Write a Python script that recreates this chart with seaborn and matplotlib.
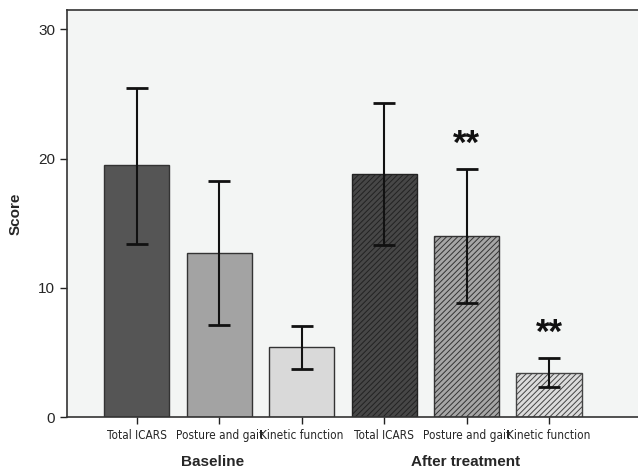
import numpy as np
import pandas as pd
import matplotlib
matplotlib.use('Agg')
import matplotlib.pyplot as plt
import seaborn as sns

# Данные
groups  = ['Baseline', 'Baseline', 'Baseline',
           'After treatment', 'After treatment', 'After treatment']
items   = ['Total ICARS', 'Posture and gait', 'Kinetic function',
           'Total ICARS', 'Posture and gait', 'Kinetic function']
means   = [19.5, 12.7, 5.4, 18.8, 14.05, 3.45]
err_lo  = [13.4, 7.1, 3.7, 13.3, 8.85, 2.3]
err_hi  = [25.5, 18.3, 7.05, 24.3, 19.2, 4.6]
signif  = ['', '', '', '', '**', '**']
colors  = ['#555555', '#a3a3a3', '#d9d9d9', '#474747', '#a6a6a6', '#dcdcdc']
hatch_c = [None, None, None, '#222222', '#333333', '#444444']

df = pd.DataFrame({'key': [f'{g}|{i}' for g, i in zip(groups, items)],
                   'item': items, 'group': groups, 'score': means})

sns.set_style('white')
plt.rcParams['hatch.linewidth'] = 0.7
SANS = ['Liberation Sans', 'DejaVu Sans']

fig = plt.figure(figsize=(6.38, 4.73), dpi=100)
ax = fig.add_axes([0.105, 0.118, 0.895, 0.861])
ax.set_facecolor('#f3f5f4')

sns.barplot(data=df, x='key', y='score', hue='key', palette=colors,
            legend=False, width=0.79, edgecolor='#333333', linewidth=1.0,
            errorbar=None, ax=ax)

for p, hc in zip(ax.patches, hatch_c):
    if hc:
        p.set_hatch('//////')
        p.set_edgecolor(hc)

x = np.arange(len(means))
ax.errorbar(x, means,
            yerr=[np.array(means) - np.array(err_lo), np.array(err_hi) - np.array(means)],
            fmt='none', ecolor='#111111', elinewidth=1.5, capsize=8, capthick=2)

for xi, s, hi in zip(x, signif, err_hi):
    if s:
        ax.text(xi, hi + 0.6, s, ha='center', va='bottom', fontsize=25,
                fontweight='bold', family=SANS, color='#111111')

ax.set_xlim(-0.846, 6.08)
ax.set_ylim(0, 31.5)
ax.set_yticks([0, 10, 20, 30])
ax.set_xticks(x)
ax.set_xticklabels(items, family='DejaVu Sans', fontstretch='condensed', fontsize=8.5)
ax.tick_params(axis='both', direction='out', length=5, width=1, color='#222222',
               bottom=True, left=True)
ax.tick_params(axis='y', labelsize=11)
for lab in ax.get_yticklabels():
    lab.set_family(SANS)
for sp in ['left', 'bottom', 'top']:
    ax.spines[sp].set_color('#333333')
    ax.spines[sp].set_linewidth(1.2)
ax.spines['right'].set_visible(False)

ax.set_xlabel('')
ax.set_ylabel('Score', fontsize=11, fontweight='bold', family=SANS, labelpad=11)

fig.text(213 / 638, 1 - 462 / 473, 'Baseline', ha='center', va='center',
         fontsize=11, fontweight='bold', family=SANS)
fig.text(466 / 638, 1 - 462 / 473, 'After treatment', ha='center', va='center',
         fontsize=11, fontweight='bold', family=SANS)

fig.savefig('out.png', dpi=100, facecolor='white')
